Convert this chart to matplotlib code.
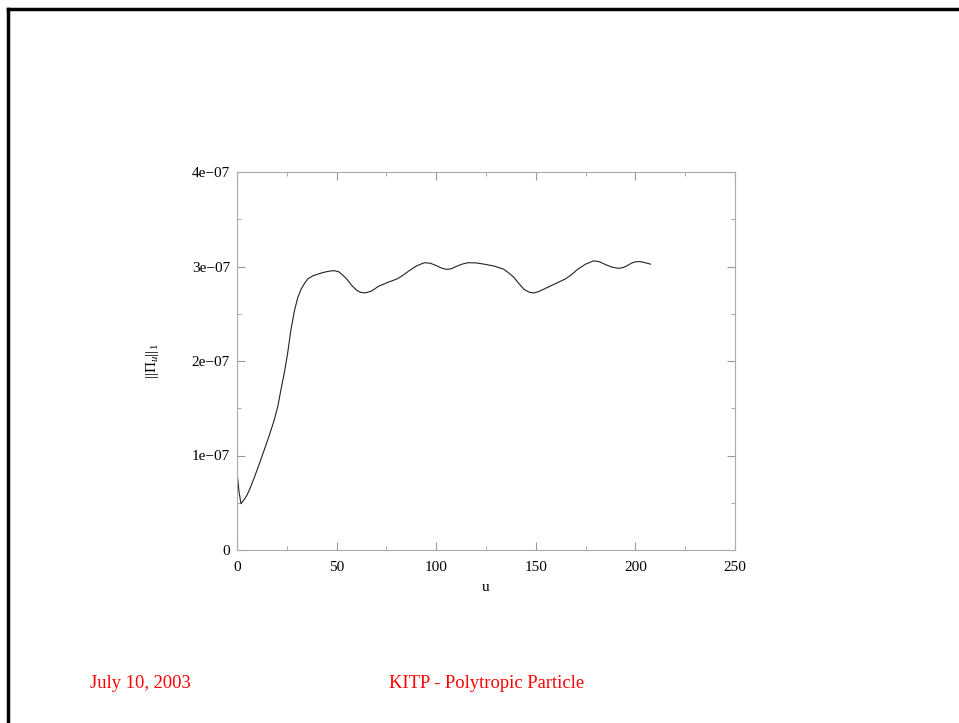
import matplotlib
matplotlib.use("Agg")
import matplotlib.pyplot as plt
from matplotlib.lines import Line2D
from matplotlib.ticker import MultipleLocator, FuncFormatter

plt.rcParams['font.family'] = ['Liberation Serif', 'DejaVu Serif']
plt.rcParams['mathtext.fontset'] = 'custom'
plt.rcParams['mathtext.rm'] = 'Liberation Serif'
plt.rcParams['mathtext.it'] = 'Liberation Serif:italic'

u = [0, 1, 2, 3.5, 5, 6.5, 8.5, 11, 13.6, 16, 18.6, 20.5, 22, 23.8, 25.4, 27, 28.8,
     30.5, 32.2, 34, 35.6, 38, 40.7, 43, 45, 47, 49, 51, 52.5, 55, 57.6, 60, 62,
     64.4, 67.5, 71, 75.5, 80.5, 83.5, 86.4, 90, 94, 97, 100, 102.5, 105, 107.5,
     110, 113, 116, 120, 124, 129, 134, 136.5, 139, 141.5, 144, 146.5, 149, 151.5,
     154, 159, 165, 168, 171, 175, 179, 182, 185, 188, 191.5, 194, 196, 198, 200,
     202, 204, 207.6]
norm = [0.827, 0.62, 0.49, 0.53, 0.58, 0.65, 0.756, 0.9, 1.055, 1.2, 1.37, 1.52,
        1.69, 1.88, 2.08, 2.32, 2.53, 2.67, 2.76, 2.825, 2.87, 2.9, 2.92, 2.935,
        2.945, 2.953, 2.955, 2.945, 2.92, 2.87, 2.80, 2.75, 2.727, 2.72, 2.74, 2.79,
        2.83, 2.87, 2.91, 2.955, 3.005, 3.04, 3.035, 3.01, 2.985, 2.97, 2.975, 3.0,
        3.025, 3.04, 3.038, 3.025, 3.005, 2.97, 2.93, 2.885, 2.82, 2.76, 2.73, 2.72,
        2.735, 2.76, 2.81, 2.87, 2.915, 2.97, 3.025, 3.06, 3.05, 3.02, 2.995, 2.98,
        2.99, 3.01, 3.035, 3.05, 3.052, 3.045, 3.025]
scale = 1e-7

fig = plt.figure(figsize=(9.59, 7.23), dpi=100)
ax = fig.add_axes([237/959, 1 - 550/723, (735-237)/959, (550-172)/723])
ax.plot(u, [v*scale for v in norm], color='#222222', lw=0.8)
ax.set_xlim(0, 250)
ax.set_ylim(0, 4e-7)
ax.xaxis.set_major_locator(MultipleLocator(50))
ax.xaxis.set_minor_locator(MultipleLocator(25))
ax.yaxis.set_major_locator(MultipleLocator(1e-7))
ax.yaxis.set_minor_locator(MultipleLocator(0.5e-7))

def yfmt(v, pos):
    if abs(v) < 1e-12:
        return '0'
    m = int(round(v / 1e-7))
    return f'{m}e\u221207'
ax.yaxis.set_major_formatter(FuncFormatter(yfmt))
ax.tick_params(which='both', direction='in', top=True, right=True, labelsize=11,
               color='#999999')
ax.tick_params(which='major', length=6)
ax.tick_params(which='minor', length=3)
ax.tick_params(axis='x', which='major', pad=8)
ax.tick_params(axis='y', which='major', pad=5)
for s in ax.spines.values():
    s.set_color('#aaaaaa')
    s.set_linewidth(0.8)
ax.set_xlabel('u', fontsize=11, labelpad=5)
ax.set_ylabel(r'$||\Pi_u||_1$', fontsize=11, labelpad=22)

fig.add_artist(Line2D([8/959, 8/959], [0, 1 - 9/723], transform=fig.transFigure,
                      color='black', lw=2.5))
fig.add_artist(Line2D([8/959, 1], [1 - 9/723, 1 - 9/723], transform=fig.transFigure,
                      color='black', lw=2.5))
fig.text(90/959, 1 - 683/723, 'July 10, 2003', color='red', fontsize=13.3, va='center')
fig.text(389/959, 1 - 683/723, 'KITP - Polytropic Particle', color='red', fontsize=13.3,
         va='center')

fig.savefig('out.png', dpi=100)
